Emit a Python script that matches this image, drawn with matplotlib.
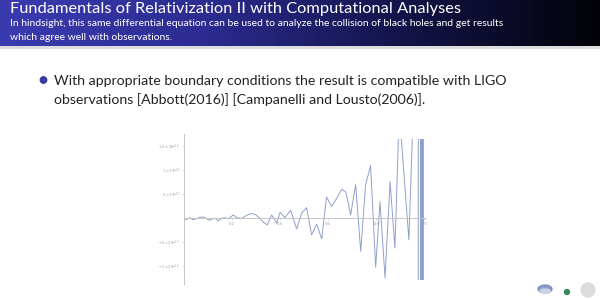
import numpy as np
import matplotlib
matplotlib.use("Agg")
import matplotlib.pyplot as plt
from matplotlib.patches import Ellipse, Circle
from matplotlib.colors import LinearSegmentedColormap

# ---- data (x in plot units, y in units of 1e-17) ----
x_vals = [0.006, 0.016, 0.027, 0.038, 0.052, 0.066, 0.080, 0.093, 0.107, 0.121,
          0.131, 0.145, 0.158, 0.172, 0.186, 0.196, 0.207, 0.221, 0.242, 0.260,
          0.279, 0.297, 0.318, 0.331, 0.348, 0.366, 0.387, 0.401, 0.421, 0.445,
          0.470, 0.491, 0.511, 0.532, 0.553, 0.574, 0.594, 0.615, 0.636, 0.657,
          0.675, 0.694, 0.715, 0.736, 0.756, 0.777, 0.798, 0.816, 0.837, 0.858,
          0.878, 0.896, 0.936, 0.975, 0.9755, 0.984, 0.9845, 0.9865, 0.9885, 0.9905,
          0.9925, 0.9945, 0.9965]
y_vals = [-0.35, -0.14, 0.14, -0.28, -0.14, 0.14, 0.28, 0.0, -0.41, -0.14,
          0.0, -0.55, 0.0, 0.14, -0.14, 0.28, 0.69, 0.14, 0.0, 0.55,
          0.97, 0.83, 0.0, -0.83, -1.38, 0.69, -1.04, 1.25, 0.14, 1.66,
          -2.21, 1.10, 2.21, -3.45, -1.24, -4.28, 4.41, 2.48, 4.14, 6.07,
          5.38, 0.69, 7.03, -6.9, 6.9, 11.0, -10.2, 3.45, -12.4, 7.6,
          -6.2, 22.4, -4.5, 54.0, -3000.0, -14.0, 3000.0, -3000.0, 3000.0, -3000.0,
          3000.0, -3000.0, 3000.0]

x_ticks = [0.2, 0.4, 0.6, 0.8, 1.0]
x_tick_labels = ["0.2", "0.4", "0.6", "0.8", "1.0"]
y_ticks = [-10, -5, 5, 10, 15]
y_tick_labels = [r"$-1\times10^{-16}$", r"$-5\times10^{-17}$", r"$5\times10^{-17}$",
                 r"$1\times10^{-16}$", r"$1.5\times10^{-16}$"]

title = "Fundamentals of Relativization II with Computational Analyses"
subtitle1 = "In hindsight, this same differential equation can be used to analyze the collision of black holes and get results"
subtitle2 = "which agree well with observations."
bullet1 = "With appropriate boundary conditions the result is compatible with LIGO"
bullet2 = "observations [Abbott(2016)] [Campanelli and Lousto(2006)]."

W, H = 600, 300
fig = plt.figure(figsize=(6, 3), dpi=100)
fig.patch.set_facecolor("white")

# background axes in pixel coordinates
bg = fig.add_axes([0, 0, 1, 1])
bg.axis("off")

# header gradient
grad = np.linspace(0, 1, 256)[None, :]
cmap = LinearSegmentedColormap.from_list("hdr", ["#3b3bb0", "#2c2c92", "#14144a", "#020208"])
bg.imshow(grad, cmap=cmap, extent=[0, W, 46, 0], aspect="auto", zorder=0)
bg.fill_between([0, W], 46, 49, color="#bbbbbb", alpha=0.5, zorder=0, lw=0)
bg.set_xlim(0, W)
bg.set_ylim(H, 0)

fam = ["Lato", "DejaVu Sans"]
bg.text(10, 12.5, title, color="white", fontsize=11.8, family=fam, va="baseline", ha="left")
bg.text(10, 25.5, subtitle1, color="white", fontsize=7.5, family=fam, va="baseline", ha="left")
bg.text(10, 39.5, subtitle2, color="white", fontsize=7.5, family=fam, va="baseline", ha="left")

bg.add_patch(Circle((43.5, 80), 3.2, color="#3a3a9a", zorder=2))
bg.text(54, 85, bullet1, color="#222222", fontsize=10.2, family=fam, va="baseline", ha="left")
bg.text(54, 104, bullet2, color="#222222", fontsize=10.2, family=fam, va="baseline", ha="left")

# small logos bottom right
bg.add_patch(Ellipse((545, 289), 14, 8, color="#6f86b8", alpha=0.8, zorder=2))
bg.add_patch(Ellipse((545, 291), 10, 4, color="#d0d8e8", alpha=0.9, zorder=3))
bg.add_patch(Circle((567, 292), 2.5, color="#3b8a5a", zorder=2))
bg.add_patch(Circle((588, 290), 7, color="#dcdcdc", zorder=2))

# ---- the plot ----
ax = fig.add_axes([183.5 / W, 20.3 / H, 242 / W, 140.6 / H])
ax.set_facecolor("none")
ax.plot(x_vals, y_vals, color="#8fa0cc", lw=0.7)
ax.set_xlim(0, 1.005)
ax.set_ylim(-12.8, 16.5)
for s in ["top", "right"]:
    ax.spines[s].set_visible(False)
ax.spines["left"].set_position(("data", 0))
ax.spines["bottom"].set_position(("data", 0))
ax.spines["left"].set_bounds(-13.8, 17.5)
for s in ["left", "bottom"]:
    ax.spines[s].set_color("#c4c4c4")
    ax.spines[s].set_linewidth(0.7)
ax.set_xticks(x_ticks)
ax.set_xticklabels(x_tick_labels)
ax.set_yticks(y_ticks)
ax.set_yticklabels(y_tick_labels)
ax.tick_params(axis="both", colors="#c4c4c4", length=1.5, width=0.5, labelsize=2.6,
               labelcolor="#999999", pad=1)

fig.savefig("out.png", dpi=100)
